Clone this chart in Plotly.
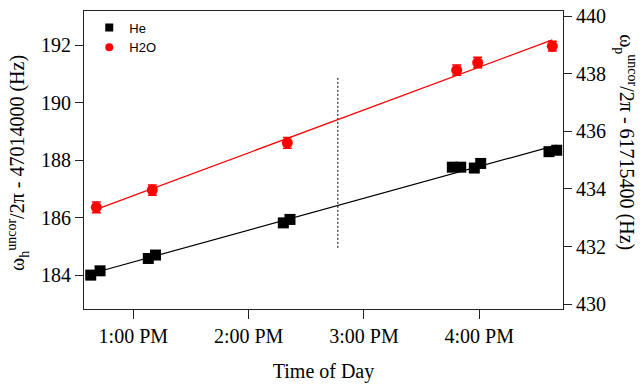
import numpy as np
import pandas as pd
import plotly.graph_objects as go

DAY = "2015-01-01 "

# He data (left axis)
he_times = ["12:37:50", "12:42:41", "13:07:48", "13:11:33", "14:18:02", "14:21:30",
            "15:45:58", "15:50:20", "15:57:24", "16:00:44", "16:36:16", "16:40:16"]
he_values = [184.00, 184.15, 184.58, 184.70, 185.82, 185.94,
             187.76, 187.76, 187.73, 187.89, 188.30, 188.35]
he_errors = [0.08] * 12

# H2O data (right axis)
h2o_times = ["12:40:45", "13:09:53", "14:20:07", "15:48:14", "15:59:10", "16:38:00"]
h2o_values = [433.36, 433.96, 435.60, 438.125, 438.39, 438.96]
h2o_errors = [0.19, 0.18, 0.19, 0.18, 0.18, 0.17]

# vertical dotted marker
marker_time = ["14:46:24"]
marker_span = [184.95, 190.9]

x_range = ["12:34:20", "16:43:33"]
x_tick_start = "13:00:00"

he_t = pd.to_datetime([DAY + t for t in he_times])
h2o_t = pd.to_datetime([DAY + t for t in h2o_times])
ref0 = pd.Timestamp(DAY + "00:00:00")


def hours(ts):
    return np.array([(t - ref0).total_seconds() / 3600.0 for t in ts])


def fit_line(ts, vals):
    h = hours(ts)
    p = np.polyfit(h, vals, 1)
    hx = np.array([h.min(), h.max()])
    xs = [ref0 + pd.Timedelta(hours=float(v)) for v in hx]
    return xs, np.polyval(p, hx)


he_fx, he_fy = fit_line(he_t, he_values)
h2o_fx, h2o_fy = fit_line(h2o_t, h2o_values)

fig = go.Figure()

fig.add_trace(go.Scatter(x=he_fx, y=he_fy, mode="lines", line=dict(color="black", width=1.2),
                         showlegend=False, hoverinfo="skip"))
fig.add_trace(go.Scatter(x=h2o_fx, y=h2o_fy, mode="lines", line=dict(color="#ff0000", width=1.2),
                         yaxis="y2", showlegend=False, hoverinfo="skip"))

mt = pd.to_datetime([DAY + marker_time[0]] * 2)
fig.add_trace(go.Scatter(x=mt, y=marker_span, mode="lines",
                         line=dict(color="black", width=1, dash="2px,2px"),
                         showlegend=False, hoverinfo="skip"))

fig.add_trace(go.Scatter(x=he_t, y=he_values, mode="markers", name="He",
                         marker=dict(symbol="square", size=11, color="black"),
                         error_y=dict(type="data", array=he_errors, color="black",
                                      thickness=1.2, width=4),
                         showlegend=False))
fig.add_trace(go.Scatter(x=h2o_t, y=h2o_values, mode="markers", name="H2O", yaxis="y2",
                         marker=dict(symbol="circle", size=11, color="#ff0000"),
                         error_y=dict(type="data", array=h2o_errors, color="#ff0000",
                                      thickness=1.5, width=4.5),
                         showlegend=False))

# legend entries
fig.add_trace(go.Scatter(x=[None], y=[None], mode="markers", name="He",
                         marker=dict(symbol="square", size=8, color="black")))
fig.add_trace(go.Scatter(x=[None], y=[None], mode="markers", name="H2O",
                         marker=dict(symbol="circle", size=8, color="#ff0000")))

SERIF = "Liberation Serif, Times New Roman, serif"


def f(size=20):
    return dict(family=SERIF, size=size, color="black")


fig.update_layout(
    width=642, height=385,
    margin=dict(l=84, r=79, t=11, b=76, autoexpand=False),
    plot_bgcolor="white", paper_bgcolor="white",
    font=f(),
    showlegend=True,
    legend=dict(x=0.011, y=0.995, xanchor="left", yanchor="top",
                font=dict(family="Liberation Sans, Arial, sans-serif", size=13, color="black"),
                bgcolor="rgba(0,0,0,0)", itemsizing="trace", tracegroupgap=0),
    xaxis=dict(type="date", range=[DAY + x_range[0], DAY + x_range[1]],
               tickformat="%-I:%M %p", dtick=3600000, tick0=DAY + x_tick_start,
               showgrid=False, zeroline=False, showline=True, linecolor="#222",
               linewidth=1, mirror=True, ticks="outside", ticklen=9, tickcolor="#222",
               tickfont=f(), automargin=False,
               title=dict(text="Time of Day", font=f(), standoff=17)),
    yaxis=dict(range=[182.82, 193.2], tickvals=[184, 186, 188, 190, 192],
               showgrid=False, zeroline=False, showline=True, linecolor="#222",
               linewidth=1, ticks="outside", ticklen=8, tickcolor="#222",
               tickfont=f(), automargin=False),
    yaxis2=dict(range=[429.83, 440.18], tickvals=[430, 432, 434, 436, 438, 440],
                overlaying="y", side="right",
                showgrid=False, zeroline=False, showline=True, linecolor="#222",
                linewidth=1, ticks="outside", ticklen=8, tickcolor="#222",
                tickfont=f(), automargin=False),
    annotations=[
        dict(text="ω<sub>h</sub><sup>uncor</sup>/2π - 47014000 (Hz)", textangle=-90,
             xref="paper", yref="paper", x=-0.1378, y=0.49, showarrow=False,
             xanchor="center", yanchor="middle", font=f()),
        dict(text="ω<sub>p</sub><sup>uncor</sup>/2π - 61715400 (Hz)", textangle=90,
             xref="paper", yref="paper", x=1.146, y=0.56, xshift=-7, showarrow=False,
             xanchor="center", yanchor="middle", font=f()),
    ],
)

fig.write_html("out.html", config={"displayModeBar": False},
               post_script="document.body.style.margin='0';")
